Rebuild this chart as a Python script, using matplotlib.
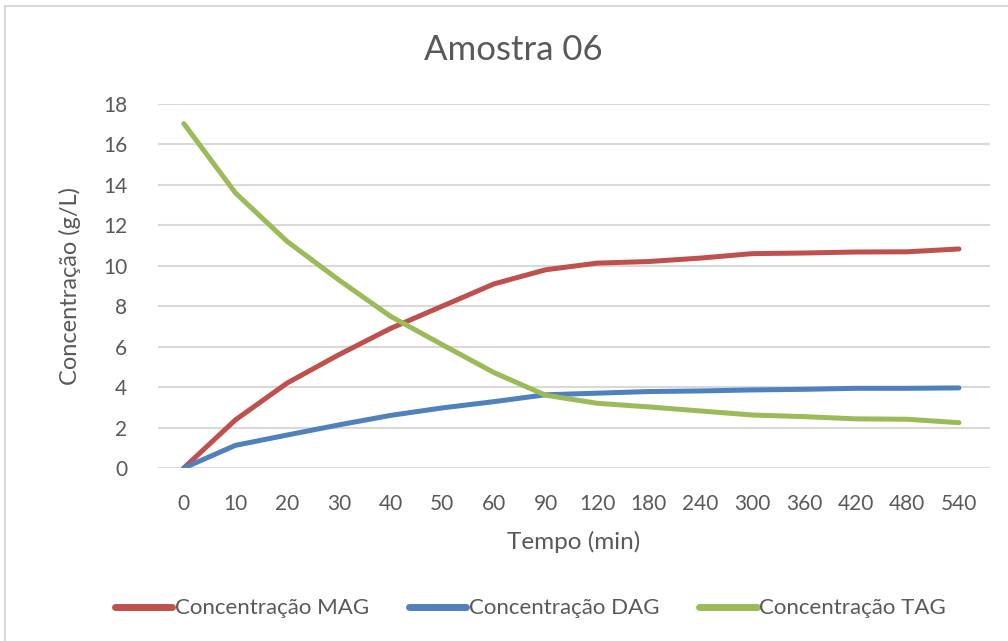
import matplotlib
matplotlib.use('Agg')
import matplotlib.pyplot as plt
from matplotlib.patches import Rectangle

plt.rcParams['font.family'] = ['Lato', 'DejaVu Sans']

# tempo de reacao (min) e concentracoes (g/L)
tempo = ['0', '10', '20', '30', '40', '50', '60', '90', '120', '180', '240', '300', '360', '420', '480', '540']
mag = [0, 2.38, 4.2, 5.6, 6.9, 8.0, 9.1, 9.8, 10.13, 10.21, 10.38, 10.6, 10.63, 10.68, 10.69, 10.83]
dag = [0, 1.12, 1.63, 2.13, 2.6, 2.97, 3.28, 3.62, 3.7, 3.78, 3.81, 3.86, 3.89, 3.94, 3.94, 3.96]
tag = [17.03, 13.6, 11.2, 9.3, 7.5, 6.1, 4.72, 3.6, 3.2, 3.02, 2.82, 2.62, 2.54, 2.43, 2.41, 2.24]

cinza = '#595959'
grade = '#D9D9D9'

fig = plt.figure(figsize=(10.08, 6.41), dpi=100)
ax = fig.add_axes([0.1567, 0.2699, 0.8254, 0.5679])

# moldura do grafico
fig.patches.append(Rectangle((5/1008, -0.2), 1.5, 1.2 - 6/641, transform=fig.transFigure,
                             fill=False, edgecolor=grade, linewidth=1.5, zorder=0))

x = list(range(len(tempo)))
estilo = dict(linewidth=3.6, solid_capstyle='round', solid_joinstyle='round')
ax.plot(x, mag, color='#C0504D', label='Concentração MAG', **estilo)
ax.plot(x, dag, color='#4F81BD', label='Concentração DAG', **estilo)
ax.plot(x, tag, color='#9BBB59', label='Concentração TAG', **estilo)

ax.set_xlim(-0.5, 15.6)
ax.set_ylim(0, 18)
ax.set_yticks(range(0, 19, 2))
ax.set_xticks(x)
ax.set_xticklabels(tempo)
ax.grid(axis='y', color=grade, linewidth=1.5)
ax.set_axisbelow(True)
for s in ax.spines.values():
    s.set_visible(False)
ax.tick_params(length=0, labelsize=15, labelcolor=cinza)
ax.tick_params(axis='x', pad=19)
ax.tick_params(axis='y', pad=22)

ax.set_xlabel('Tempo (min)', fontsize=17.5, color=cinza, labelpad=12)
ax.set_ylabel('Concentração (g/L)', fontsize=17, color=cinza, labelpad=16)
fig.text(0.509, 0.922, 'Amostra 06', ha='center', va='center', fontsize=25, color=cinza)

leg = fig.legend(loc='center', bbox_to_anchor=(0.526, 0.051), ncol=3, frameon=False,
                 fontsize=16, handlelength=2.6, handletextpad=0.1, columnspacing=1.8)
for t in leg.get_texts():
    t.set_color(cinza)
for h in leg.get_lines():
    h.set_linewidth(5)

fig.savefig('out.png', dpi=100)
